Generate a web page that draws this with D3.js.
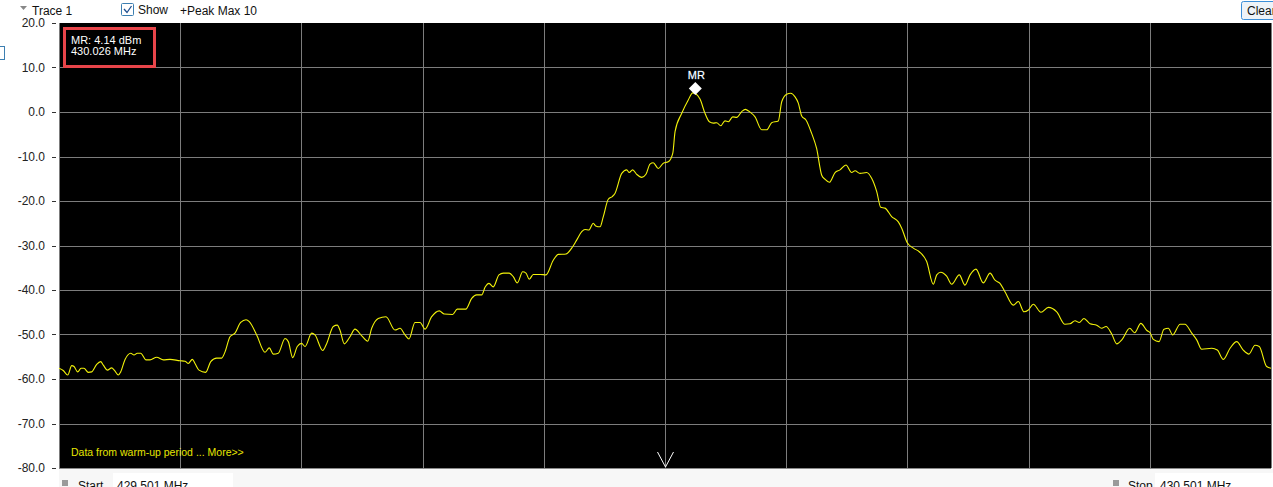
<!DOCTYPE html>
<html>
<head>
<meta charset="utf-8">
<script src="https://cdn.jsdelivr.net/npm/d3@7/dist/d3.min.js"></script>
<style>
  html, body { margin: 0; padding: 0; background: #fff; overflow: hidden; }
  svg { display: block; font-family: "Liberation Sans", Arial, sans-serif; }
</style>
</head>
<body>
<svg id="chart" width="1273" height="487"></svg>
<script>
// Span of the sweep, MHz
const START_MHZ = 429.501;
const STOP_MHZ = 430.501;

// Y axis (dBm) ticks
const levelTicks = [20, 10, 0, -10, -20, -30, -40, -50, -60, -70, -80];

// Trace: offset from start frequency (kHz) and level (dBm)
const freqKHz = [
  0, 3.5, 7.2, 10.5, 12.4, 15.4, 18.2, 20.6, 24.2, 27.0, 31.1, 34.4, 36.6, 39.9, 43.5, 45.6, 48.9, 50.9,
  54.5, 59.2, 61.9, 64.6, 67.4, 71.8, 75.1, 80.6, 86.1, 91.6, 99.8, 104.0, 106.7, 110.0, 112.2, 115.5,
  121.0, 125.2, 130.1, 134.2, 137.0, 141.1, 145.2, 149.9, 154.3, 157.0, 163.1, 170.0, 173.5, 176.8,
  180.9, 186.5, 189.2, 192.8, 196.6, 200.2, 203.0, 208.5, 211.2, 217.6, 220.9, 226.3, 229.6, 231.8,
  235.4, 240.1, 244.2, 249.8, 254.7, 258.0, 263.4, 269.8, 277.2, 281.4, 285.5, 288.8, 293.7, 297.9,
  302.0, 307.5, 313.8, 317.9, 324.8, 328.6, 335.6, 340.5, 344.6, 348.8, 351.5, 354.8, 358.3, 363.0,
  366.6, 371.5, 374.8, 378.1, 382.6, 385.3, 388.0, 391.3, 396.9, 401.8, 407.8, 412.0, 418.3, 423.0,
  427.1, 431.3, 434.0, 437.3, 440.8, 442.8, 446.4, 449.1, 453.2, 456.5, 458.7, 464.3, 468.4, 470.5,
  473.3, 476.6, 480.8, 484.3, 487.6, 490.3, 494.5, 498.6, 502.7, 506.4, 508.3, 513.8, 519.2, 522.9,
  525.0, 528.9, 533.0, 536.6, 539.9, 542.7, 546.0, 549.5, 552.2, 555.9, 559.2, 563.3, 566.3, 569.6,
  574.3, 579.8, 583.9, 588.0, 593.5, 596.3, 600.4, 603.7, 607.3, 610.0, 612.8, 616.3, 621.0, 625.1,
  629.3, 632.0, 635.6, 640.3, 644.4, 649.3, 654.0, 656.8, 660.9, 666.4, 670.5, 674.7, 678.0, 681.5,
  687.0, 692.5, 695.3, 699.9, 704.9, 709.8, 715.9, 721.4, 724.2, 727.5, 732.4, 736.6, 742.8, 747.5,
  751.7, 756.6, 762.6, 768.2, 772.3, 776.4, 780.5, 787.4, 791.5, 796.2, 799.8, 803.9, 810.2, 816.3,
  823.2, 830.0, 834.2, 838.3, 841.8, 845.7, 850.7, 856.2, 860.3, 863.9, 868.6, 872.7, 877.2, 883.4,
  887.5, 892.6, 897.6, 900.2, 902.9, 907.6, 911.7, 915.3, 918.9, 925.0, 929.0, 934.6, 938.7, 942.8,
  951.1, 955.7, 960.7, 966.2, 971.7, 977.1, 981.8, 986.8, 990.3, 996.4, 1000
];
const levelDbm = [
  -57.6, -58.1, -59.1, -57.0, -57.2, -58.4, -57.6, -57.6, -58.5, -58.4, -56.7, -56.1, -56.9, -58.0, -57.5, -58.0, -59.1, -58.4,
  -55.6, -54.2, -54.6, -54.2, -54.2, -55.7, -55.7, -55.1, -55.7, -55.6, -55.9, -56.0, -56.5, -55.6, -56.5, -58.0,
  -58.5, -56.1, -55.3, -55.3, -53.9, -50.5, -49.7, -47.3, -46.7, -47.1, -50.1, -54.0, -53.0, -54.4,
  -54.2, -50.9, -51.6, -55.2, -52.7, -52.0, -52.7, -49.7, -50.1, -53.6, -52.0, -48.2, -47.9, -49.0,
  -52.1, -50.5, -48.8, -50.3, -51.5, -48.6, -46.4, -46.0, -49.0, -48.6, -50.1, -51.0, -47.3, -47.3,
  -48.8, -46.0, -44.7, -45.4, -45.5, -44.3, -44.3, -41.9, -41.1, -41.1, -39.4, -38.5, -39.3, -36.6,
  -36.2, -36.2, -37.0, -38.4, -35.9, -36.2, -37.6, -36.5, -36.5, -36.6, -33.3, -32.0, -31.9, -30.6,
  -28.8, -26.9, -26.4, -26.5, -25.0, -25.6, -25.8, -23.5, -19.6, -19.0, -18.3, -13.8, -13.0, -13.6,
  -13.0, -14.0, -14.7, -14.0, -11.7, -11.4, -12.7, -11.5, -11.2, -9.3, -4.4, -0.3, 2.7, 4.3,
  4.14, 2.9, -0.3, -2.2, -2.5, -2.4, -3.1, -2.0, -2.2, -1.1, -1.2, 0.1, 0.6, 0.1,
  -1.1, -4.0, -4.0, -2.4, -2.0, 2.3, 4.0, 4.2, 3.4, 2.0, -0.9, -1.8, -4.8, -8.2,
  -14.2, -15.1, -15.8, -13.6, -13.0, -11.9, -13.6, -13.2, -13.8, -13.6, -14.9, -17.9, -21.4, -21.6,
  -23.5, -24.7, -26.1, -29.4, -30.6, -31.4, -33.6, -38.7, -36.6, -36.0, -36.9, -38.7, -36.6, -38.9,
  -36.6, -35.3, -38.4, -36.2, -37.8, -38.5, -40.4, -43.4, -42.6, -44.9, -44.5, -43.2, -45.0, -43.9,
  -44.9, -47.7, -47.6, -46.9, -47.3, -46.4, -47.6, -47.9, -48.6, -48.2, -49.9, -52.1, -51.1, -48.6,
  -49.6, -47.5, -49.1, -49.6, -51.1, -51.6, -48.8, -48.6, -50.1, -47.7, -47.7, -49.7, -51.2, -53.3,
  -53.1, -53.5, -55.6, -53.1, -51.6, -53.5, -54.4, -52.4, -52.7, -57.2, -57.6
];

// Marker MR
const markerName = 'MR';
const markerKHz = 525;
const markerDbm = 4.14;

const svg = d3.select('#chart');

const plotLeft = 59, plotRight = 1271, plotTop = 23, plotBottom = 468;

let x = d3.scaleLinear().domain([0, 1000]).range([plotLeft, plotRight]);
let y = d3.scaleLinear().domain([-80, 20]).range([plotBottom, plotTop]);

// toolbar on top
svg.append('path').attr('d', 'M20,6 L27,6 L23.5,10 Z').attr('fill', '#888');
svg.append('text').attr('x', 32).attr('y', 15).attr('font-size', 12).attr('fill', '#111').text('Trace 1');
svg.append('rect').attr('x', 121.5).attr('y', 3.5).attr('width', 12).attr('height', 12)
  .attr('fill', '#fff').attr('stroke', '#3c7fb1').attr('rx', 1);
svg.append('path').attr('d', 'M124,9 L127,12.5 L131.5,6').attr('fill', 'none')
  .attr('stroke', '#1f4f8f').attr('stroke-width', 1.3);
svg.append('text').attr('x', 138).attr('y', 14).attr('font-size', 12).attr('fill', '#111').text('Show');
svg.append('text').attr('x', 180).attr('y', 15).attr('font-size', 12).attr('fill', '#111').text('+Peak Max 10');

// Clear button (cut by the right edge, as in the app)
svg.append('rect').attr('x', 1241.5).attr('y', 1.5).attr('width', 40).attr('height', 18).attr('rx', 2)
  .attr('fill', '#eef3f8').attr('stroke', '#3c8fd8');
svg.append('text').attr('x', 1247).attr('y', 15).attr('font-size', 12).attr('fill', '#111').text('Clear');

// partial checkbox on the left edge
svg.append('rect').attr('x', -8.5).attr('y', 46.5).attr('width', 13).attr('height', 13)
  .attr('fill', '#fff').attr('stroke', '#3c7fb1');

// bottom strip with start / stop fields
svg.append('rect').attr('x', plotLeft).attr('y', plotBottom + 1).attr('width', 1273 - plotLeft).attr('height', 20).attr('fill', '#f7f7f7');
svg.append('rect').attr('x', 113).attr('y', 473).attr('width', 120).attr('height', 20).attr('fill', '#fff');
svg.append('rect').attr('x', 1155).attr('y', 473).attr('width', 118).attr('height', 20).attr('fill', '#fff');

svg.append('rect').attr('x', 62).attr('y', 480).attr('width', 6).attr('height', 6).attr('fill', '#9a9a9a');
svg.append('text').attr('x', 78).attr('y', 490).attr('font-size', 12).attr('fill', '#111').text('Start');
svg.append('text').attr('x', 117).attr('y', 490).attr('font-size', 12).attr('fill', '#111')
  .text(`${START_MHZ.toFixed(3)} MHz`);
svg.append('rect').attr('x', 1113).attr('y', 480).attr('width', 6).attr('height', 6).attr('fill', '#9a9a9a');
svg.append('text').attr('x', 1128).attr('y', 490).attr('font-size', 12).attr('fill', '#111').text('Stop');
svg.append('text').attr('x', 1160).attr('y', 490).attr('font-size', 12).attr('fill', '#111')
  .text(`${STOP_MHZ.toFixed(3)} MHz`);

// plot background
svg.append('rect').attr('x', plotLeft).attr('y', plotTop)
  .attr('width', plotRight - plotLeft).attr('height', plotBottom - plotTop).attr('fill', '#000');
svg.append('line').attr('x1', plotLeft).attr('x2', plotRight).attr('y1', plotBottom + 0.5).attr('y2', plotBottom + 0.5)
  .attr('stroke', '#8a8a8a').attr('shape-rendering', 'crispEdges');

// grid
let grid = svg.append('g').attr('stroke', '#7c7c7c').attr('stroke-width', 1).attr('shape-rendering', 'crispEdges');
grid.selectAll('.v').data(d3.range(0, 1001, 100)).join('line')
  .attr('x1', d => Math.round(x(d)) + 0.5).attr('x2', d => Math.round(x(d)) + 0.5)
  .attr('y1', plotTop).attr('y2', plotBottom);
grid.selectAll('.h').data(levelTicks.slice(1, -1)).join('line')
  .attr('y1', d => Math.round(y(d)) + 0.5).attr('y2', d => Math.round(y(d)) + 0.5)
  .attr('x1', plotLeft).attr('x2', plotRight);

// y axis labels with little dash
let yAxis = svg.append('g');
yAxis.selectAll('text.lbl').data(levelTicks).join('text')
  .attr('class', 'lbl')
  .attr('x', 45).attr('y', d => y(d) + 4)
  .attr('text-anchor', 'end').attr('font-size', 12).attr('fill', '#222')
  .text(d => d.toFixed(1));
yAxis.selectAll('line').data(levelTicks).join('line')
  .attr('x1', 52).attr('x2', 56)
  .attr('y1', d => Math.round(y(d)) + 0.5).attr('y2', d => Math.round(y(d)) + 0.5)
  .attr('stroke', '#333').attr('shape-rendering', 'crispEdges');

// the trace
let points = freqKHz.map((f, i) => [f, levelDbm[i]]);
let line = d3.line().x(d => x(d[0])).y(d => y(d[1])).curve(d3.curveMonotoneX);
svg.append('path').datum(points)
  .attr('d', line)
  .attr('fill', 'none').attr('stroke', '#f2f20a').attr('stroke-width', 1.1);

// marker
let mx = x(markerKHz), my = y(markerDbm) - 5;
svg.append('path')
  .attr('d', `M${mx},${my - 6.5} L${mx + 6.5},${my} L${mx},${my + 6.5} L${mx - 6.5},${my} Z`)
  .attr('fill', '#fff');
svg.append('text').attr('x', mx + 1).attr('y', my - 10).attr('text-anchor', 'middle')
  .attr('font-size', 11).attr('fill', '#fff')
  .attr('stroke', '#6aa0d0').attr('stroke-width', 0.4).attr('paint-order', 'stroke')
  .text(markerName);

// marker readout box
svg.append('rect').attr('x', 64.5).attr('y', 28.5).attr('width', 90).attr('height', 38)
  .attr('fill', 'none').attr('stroke', '#e8454a').attr('stroke-width', 3);
svg.append('text').attr('x', 71).attr('y', 44).attr('font-size', 11).attr('fill', '#fff')
  .text(`${markerName}: ${markerDbm.toFixed(2)} dBm`);
svg.append('text').attr('x', 71).attr('y', 55).attr('font-size', 11).attr('fill', '#fff')
  .text(`${(START_MHZ + markerKHz / 1000).toFixed(3)} MHz`);

// warm-up note
svg.append('text').attr('x', 71).attr('y', 456).attr('font-size', 10.5).attr('fill', '#e6e600')
  .text('Data from warm-up period ... More>>');

// center frequency arrow
let cx = Math.round(x(500)) + 0.5;
svg.append('path').attr('d', `M${cx - 8},${plotBottom - 16} L${cx},${plotBottom - 1} L${cx + 8},${plotBottom - 16}`)
  .attr('fill', 'none').attr('stroke', '#fff').attr('stroke-width', 1);
</script>
</body>
</html>
